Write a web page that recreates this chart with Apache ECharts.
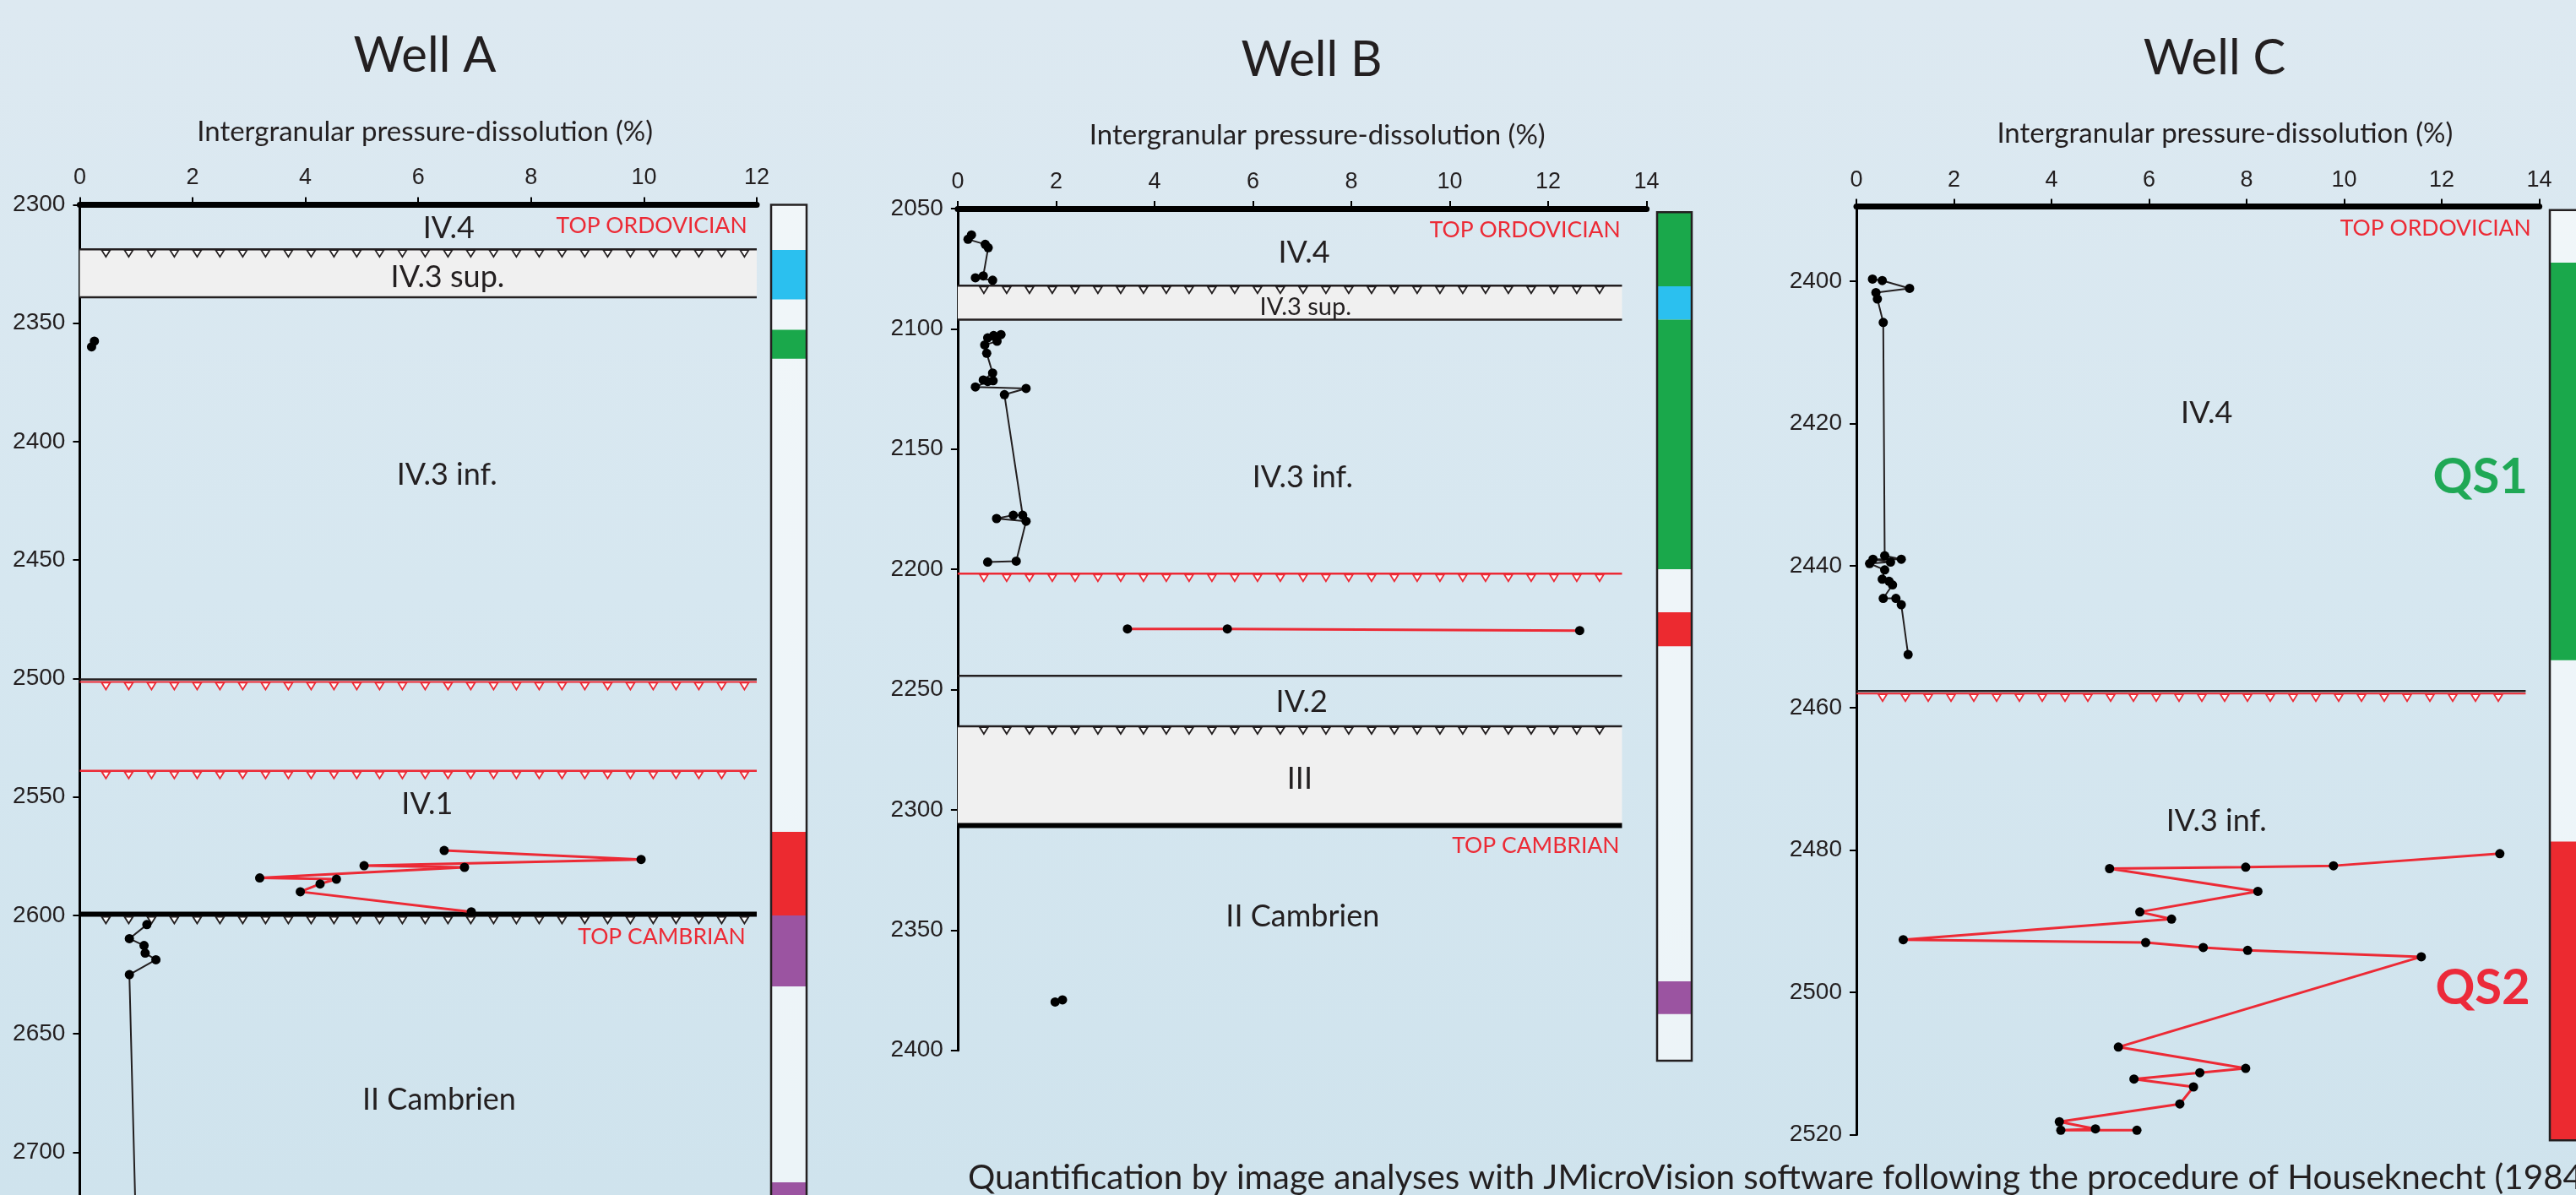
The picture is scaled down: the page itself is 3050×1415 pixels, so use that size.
<!DOCTYPE html>
<html>
<head>
<meta charset="utf-8">
<title>Intergranular pressure-dissolution - Wells A, B, C</title>
<script src="https://cdn.jsdelivr.net/npm/echarts@6.0.0/dist/echarts.min.js"></script>
<style>
  html, body { margin: 0; padding: 0; }
  #chart { width: 3050px; height: 1415px; }
</style>
</head>
<body>
<div id="chart"></div>
<script>
// ---- Well A ----
const wellA_black1 = [[0.26, 2357.6], [0.21, 2360]];
const wellA_red = [
  [6.46, 2572.6], [9.95, 2576.4], [5.04, 2579], [6.82, 2579.7], [3.19, 2584.2],
  [4.55, 2584.7], [4.26, 2586.7], [3.91, 2590], [6.94, 2598.5],
];
const wellA_black2 = [
  [1.19, 2603.9], [0.88, 2609.8], [1.14, 2612.7], [1.16, 2615.9], [1.35, 2618.7],
  [0.88, 2625], [1.01, 2745],
];
const wellA_surfaceDepth = [2318.8, 2339.1, 2500.9, 2539, 2599.5];
const wellA_surfaceType = ["erosion", "limit", "limitRedErosion", "redErosion", "topErosion"];
const wellA_bands = [[2318.8, 2339.1]];
const wellA_units = ["IV.4", "IV.3 sup.", "IV.3 inf.", "IV.1", "II Cambrien"];
const wellA_unitAt = [[6.54, 2309.9], [6.52, 2330.6], [6.51, 2414.1], [6.16, 2553], [6.37, 2678]];
const wellA_tops = ["TOP ORDOVICIAN", "TOP CAMBRIAN"];
const wellA_topAt = [[11.83, 2308.8], [11.8, 2609]];
const wellA_frame = [[2300, 2750]];
const wellA_column = [
  [2319.1, 2340, "cyan"], [2352.8, 2365, "green"], [2564.7, 2600, "red"],
  [2600, 2630, "purple"], [2712.7, 2750, "purple"],
];
const wellA_depthTicks = [2300, 2350, 2400, 2450, 2500, 2550, 2600, 2650, 2700, 2750];
const wellA_pctTicks = [0, 2, 4, 6, 8, 10, 12];

// ---- Well B ----
const wellB_black1 = [
  [0.28, 2061], [0.21, 2062.8], [0.56, 2064.9], [0.62, 2066.3], [0.52, 2078],
  [0.36, 2078.8], [0.71, 2079.8],
];
const wellB_black2 = [
  [0.88, 2102.4], [0.73, 2102.8], [0.61, 2103.8], [0.8, 2105.2], [0.55, 2106.7],
  [0.59, 2110.2], [0.71, 2118.4], [0.52, 2121.3], [0.72, 2121.6], [0.61, 2121.9],
  [0.36, 2124.2], [1.39, 2124.8], [0.95, 2127.4], [1.32, 2177.5], [1.13, 2177.5],
  [0.79, 2178.9], [1.39, 2180], [1.19, 2196.6], [0.61, 2197],
];
const wellB_red = [[3.45, 2224.8], [5.48, 2224.8], [12.64, 2225.5]];
const wellB_black3 = [[1.98, 2379.9], [2.13, 2379]];
const wellB_surfaceDepth = [2082.1, 2096.2, 2201.8, 2244.3, 2265.3, 2306.5];
const wellB_surfaceType = ["erosion", "limit", "redErosion", "limit", "erosion", "top"];
const wellB_bands = [[2082.1, 2096.2], [2265.3, 2306.5]];
const wellB_units = ["IV.4", "IV.3 inf.", "IV.2", "III", "II Cambrien"];
const wellB_unitAt = [[7.04, 2068.3], [7.01, 2161.7], [6.99, 2255.2], [6.95, 2287.2], [7.01, 2344.3]];
const wellB_smallUnits = ["IV.3 sup."];
const wellB_smallUnitAt = [[7.07, 2091.1]];
const wellB_tops = ["TOP ORDOVICIAN", "TOP CAMBRIAN"];
const wellB_topAt = [[13.47, 2058.8], [13.45, 2315.1]];
const wellB_frame = [[2051.5, 2404.3]];
const wellB_column = [
  [2051.5, 2082.3, "green"], [2082.3, 2096.2, "cyan"], [2096.2, 2200, "green"],
  [2217.9, 2232, "red"], [2371.3, 2384.9, "purple"],
];
const wellB_depthTicks = [2050, 2100, 2150, 2200, 2250, 2300, 2350, 2400];
const wellB_pctTicks = [0, 2, 4, 6, 8, 10, 12, 14];

// ---- Well C ----
const wellC_black = [
  [0.33, 2399.7], [0.53, 2399.9], [1.09, 2401], [0.4, 2401.6], [0.43, 2402.5],
  [0.55, 2405.8], [0.58, 2438.6], [0.92, 2439.1], [0.34, 2439.1], [0.7, 2439.5],
  [0.27, 2439.7], [0.58, 2440.6], [0.53, 2441.9], [0.67, 2442.2], [0.74, 2442.7],
  [0.55, 2444.6], [0.81, 2444.6], [0.92, 2445.5], [1.06, 2452.5],
];
const wellC_red = [
  [13.19, 2480.5], [9.78, 2482.2], [7.98, 2482.4], [5.19, 2482.6], [8.23, 2485.8],
  [5.81, 2488.7], [6.46, 2489.7], [0.96, 2492.6], [5.93, 2493], [7.11, 2493.7],
  [8.02, 2494.1], [11.58, 2495], [5.37, 2507.7], [7.98, 2510.7], [7.04, 2511.3],
  [5.69, 2512.2], [6.91, 2513.3], [6.63, 2515.7], [4.16, 2518.2], [4.9, 2519.2],
  [4.19, 2519.4], [5.75, 2519.4],
];
const wellC_surfaceDepth = [2457.8];
const wellC_surfaceType = ["limitRedErosion"];
const wellC_units = ["IV.4", "IV.3 inf."];
const wellC_unitAt = [[7.18, 2418.6], [7.38, 2475.9]];
const wellC_tops = ["TOP ORDOVICIAN"];
const wellC_topAt = [[13.83, 2392.6]];
const wellC_sequences = ["QS1", "QS2"];
const wellC_sequenceAt = [[12.79, 2427.6], [12.84, 2499.4]];
const wellC_frame = [[2390, 2520.8]];
const wellC_column = [[2397.4, 2453.3, "green"], [2478.8, 2520.8, "red"]];
const wellC_depthTicks = [2400, 2420, 2440, 2460, 2480, 2500, 2520];
const wellC_pctTicks = [0, 2, 4, 6, 8, 10, 12, 14];

const INK = "#231f20";
const RED = "#ec2a35";
const COLUMN_COLORS = { green: "#1aa84b", cyan: "#2bc0ef", red: "#ec2a30", purple: "#9b54a1" };
const SEQ_COLORS = ["#1fa855", "#ec2a3a"];

function pctAxis(gridIndex, max, ticks, nameShift) {
  return {
    gridIndex, type: "value", position: "top", min: 0, max,
    name: "Intergranular pressure-dissolution (%)",
    nameLocation: "middle", nameGap: 70,
    nameTextStyle: { fontFamily: "Lato", fontSize: 33, color: INK, padding: [0, 0, 0, nameShift * 2] },
    axisLine: { show: true, onZero: false, lineStyle: { color: "#000", width: 7 } },
    axisTick: { show: true, length: 9, customValues: ticks, lineStyle: { color: "#000", width: 2 } },
    axisLabel: { customValues: ticks, fontFamily: "Liberation Sans", fontSize: 27, color: INK, margin: 18, formatter: (v) => String(v) },
    splitLine: { show: false },
  };
}

function depthAxis(gridIndex, min, max, ticks) {
  return {
    gridIndex, type: "value", inverse: true, min, max,
    axisLine: { show: true, onZero: false, lineStyle: { color: "#000", width: 3 } },
    axisTick: { show: true, length: 8, customValues: ticks, lineStyle: { color: "#000", width: 2 } },
    // plain depths, no thousands separator
    axisLabel: { customValues: ticks, fontFamily: "Liberation Sans", fontSize: 28, color: INK, margin: 17, formatter: (v) => String(v) },
    splitLine: { show: false },
  };
}

function hiddenAxis(gridIndex, isY, min, max) {
  return { gridIndex, type: "value", show: false, inverse: isY, min, max, splitLine: { show: false } };
}

// unconformity teeth hanging under a surface line
function teeth(children, x0, x1, y, color) {
  for (let x = x0 + 31; x < x1 - 14; x += 27) {
    children.push({
      type: "polygon",
      shape: { points: [[x - 5, y], [x + 5, y], [x, y + 8]] },
      style: { fill: "#ffffff", stroke: color, lineWidth: 1.8 },
    });
  }
}

function surfaceSeries(idx, depths, types, xEnd) {
  return {
    type: "custom", xAxisIndex: idx, yAxisIndex: idx, z: 3, silent: true,
    data: depths.map((d) => [0, d]),
    renderItem: (params, api) => {
      const depth = api.value(1);
      const a = api.coord([0, depth]);
      const b = api.coord([xEnd, depth]);
      const y = a[1];
      const kind = types[params.dataIndex];
      const children = [];
      const line = (yy, color, width) =>
        children.push({ type: "line", shape: { x1: a[0], y1: yy, x2: b[0], y2: yy }, style: { stroke: color, lineWidth: width } });
      if (kind === "limit") {
        line(y, INK, 2.5);
      } else if (kind === "erosion") {
        line(y, INK, 2.5);
        teeth(children, a[0], b[0], y + 1, INK);
      } else if (kind === "redErosion") {
        line(y, RED, 2.5);
        teeth(children, a[0], b[0], y + 1, RED);
      } else if (kind === "limitRedErosion") {
        line(y - 1.5, INK, 2.5);
        line(y + 1.5, RED, 2);
        teeth(children, a[0], b[0], y + 2.5, RED);
      } else if (kind === "top") {
        line(y, "#000", 6);
      } else if (kind === "topErosion") {
        line(y, "#000", 6);
        teeth(children, a[0], b[0], y + 3, INK);
      }
      return { type: "group", children };
    },
  };
}

function bandSeries(idx, bands, xEnd) {
  return {
    type: "custom", xAxisIndex: idx, yAxisIndex: idx, z: 1, silent: true,
    data: bands,
    renderItem: (params, api) => {
      const p0 = api.coord([0, api.value(0)]);
      const p1 = api.coord([xEnd, api.value(1)]);
      return { type: "rect", shape: { x: p0[0], y: p0[1], width: p1[0] - p0[0], height: p1[1] - p0[1] }, style: { fill: "#f0f0f0" } };
    },
  };
}

function textSeries(idx, texts, at, style, colors) {
  return {
    type: "custom", xAxisIndex: idx, yAxisIndex: idx, z: 6, silent: true,
    data: at,
    renderItem: (params, api) => {
      const p = api.coord([api.value(0), api.value(1)]);
      return {
        type: "text", x: p[0], y: p[1],
        style: Object.assign({
          text: texts[params.dataIndex],
          verticalAlign: "middle", textVerticalAlign: "middle",
        }, style, colors ? { fill: colors[params.dataIndex] } : {}),
      };
    },
  };
}

function dataLine(idx, data, color) {
  return {
    type: "line", xAxisIndex: idx, yAxisIndex: idx, z: 5, silent: true,
    data, symbol: "circle", symbolSize: 11, showSymbol: true,
    lineStyle: { color, width: color === RED ? 3 : 2 },
    itemStyle: { color: "#000" },
  };
}

function columnSeries(idx, frame, segments) {
  return [
    {
      type: "custom", xAxisIndex: idx, yAxisIndex: idx, z: 1, silent: true,
      data: frame,
      renderItem: (params, api) => {
        const p0 = api.coord([0, api.value(0)]);
        const p1 = api.coord([1, api.value(1)]);
        return { type: "rect", shape: { x: p0[0], y: p0[1], width: p1[0] - p0[0], height: p1[1] - p0[1] }, style: { fill: "rgba(255,255,255,0.6)" } };
      },
    },
    {
      type: "custom", xAxisIndex: idx, yAxisIndex: idx, z: 2, silent: true,
      data: segments.map((s) => [s[0], s[1]]),
      renderItem: (params, api) => {
        const p0 = api.coord([0, api.value(0)]);
        const p1 = api.coord([1, api.value(1)]);
        return { type: "rect", shape: { x: p0[0], y: p0[1], width: p1[0] - p0[0], height: p1[1] - p0[1] }, style: { fill: COLUMN_COLORS[segments[params.dataIndex][2]] } };
      },
    },
    {
      type: "custom", xAxisIndex: idx, yAxisIndex: idx, z: 3, silent: true,
      data: frame,
      renderItem: (params, api) => {
        const p0 = api.coord([0, api.value(0)]);
        const p1 = api.coord([1, api.value(1)]);
        return { type: "rect", shape: { x: p0[0], y: p0[1], width: p1[0] - p0[0], height: p1[1] - p0[1] }, style: { fill: "none", stroke: INK, lineWidth: 2.5 } };
      },
    },
  ];
}

const unitStyle = { fontFamily: "Lato", fontSize: 36, fill: INK, align: "center", textAlign: "center" };
const smallUnitStyle = { fontFamily: "Lato", fontSize: 29, fill: INK, align: "center", textAlign: "center" };
const topStyle = { fontFamily: "Lato", fontSize: 26.5, fill: RED, align: "right", textAlign: "right" };
const seqStyle = { fontFamily: "Lato", fontSize: 58, fontWeight: "bold", fill: INK, align: "center", textAlign: "center" };

const gridCommon = { outerBoundsMode: "none", containLabel: false };

const options = {
  animation: false,
  backgroundColor: {
    type: "linear", x: 0, y: 0, x2: 0, y2: 1,
    colorStops: [{ offset: 0, color: "#dde9f1" }, { offset: 0.5, color: "#d6e7f0" }, { offset: 1, color: "#cfe3ed" }],
  },
  graphic: [
    { type: "text", x: 503, y: 66, style: { text: "Well A", fontFamily: "Lato", fontSize: 58, fill: INK, align: "center", verticalAlign: "middle", textAlign: "center", textVerticalAlign: "middle" } },
    { type: "text", x: 1553, y: 71, style: { text: "Well B", fontFamily: "Lato", fontSize: 58, fill: INK, align: "center", verticalAlign: "middle", textAlign: "center", textVerticalAlign: "middle" } },
    { type: "text", x: 2622, y: 69, style: { text: "Well C", fontFamily: "Lato", fontSize: 58, fill: INK, align: "center", verticalAlign: "middle", textAlign: "center", textVerticalAlign: "middle" } },
    { type: "text", x: 1146, y: 1395, style: { text: "Quantification by image analyses with JMicroVision software following the procedure of Houseknecht (1984).", fontFamily: "Lato", fontSize: 40.4, fill: INK, align: "left", verticalAlign: "middle", textAlign: "left", textVerticalAlign: "middle" } },
  ],
  grid: [
    Object.assign({ left: 94.4, top: 242.4, width: 801.6, height: 1262.3 }, gridCommon),
    Object.assign({ left: 1133.9, top: 246.9, width: 815.7, height: 996.8 }, gridCommon),
    Object.assign({ left: 2198, top: 244.6, width: 808.6, height: 1098.8 }, gridCommon),
    Object.assign({ left: 913, top: 242.4, width: 42, height: 1262.3 }, gridCommon),
    Object.assign({ left: 1962, top: 246.9, width: 41, height: 996.8 }, gridCommon),
    Object.assign({ left: 3019, top: 244.6, width: 40, height: 1098.8 }, gridCommon),
  ],
  xAxis: [
    pctAxis(0, 12, wellA_pctTicks, 8),
    pctAxis(1, 14, wellB_pctTicks, 18),
    pctAxis(2, 14, wellC_pctTicks, 32),
    hiddenAxis(3, false, 0, 1),
    hiddenAxis(4, false, 0, 1),
    hiddenAxis(5, false, 0, 1),
  ],
  yAxis: [
    depthAxis(0, 2300, 2750, wellA_depthTicks),
    depthAxis(1, 2050, 2400, wellB_depthTicks),
    depthAxis(2, 2389.5, 2520, wellC_depthTicks),
    hiddenAxis(3, true, 2300, 2750),
    hiddenAxis(4, true, 2050, 2400),
    hiddenAxis(5, true, 2389.5, 2520),
  ],
  series: [
    // Well A
    bandSeries(0, wellA_bands, 12),
    surfaceSeries(0, wellA_surfaceDepth, wellA_surfaceType, 12),
    dataLine(0, wellA_black1, INK),
    dataLine(0, wellA_red, RED),
    dataLine(0, wellA_black2, INK),
    textSeries(0, wellA_units, wellA_unitAt, unitStyle),
    textSeries(0, wellA_tops, wellA_topAt, topStyle),
    ...columnSeries(3, wellA_frame, wellA_column),
    // Well B
    bandSeries(1, wellB_bands, 13.5),
    surfaceSeries(1, wellB_surfaceDepth, wellB_surfaceType, 13.5),
    dataLine(1, wellB_black1, INK),
    dataLine(1, wellB_black2, INK),
    dataLine(1, wellB_red, RED),
    dataLine(1, wellB_black3, INK),
    textSeries(1, wellB_units, wellB_unitAt, unitStyle),
    textSeries(1, wellB_smallUnits, wellB_smallUnitAt, smallUnitStyle),
    textSeries(1, wellB_tops, wellB_topAt, topStyle),
    ...columnSeries(4, wellB_frame, wellB_column),
    // Well C
    surfaceSeries(2, wellC_surfaceDepth, wellC_surfaceType, 13.72),
    dataLine(2, wellC_black, INK),
    dataLine(2, wellC_red, RED),
    textSeries(2, wellC_units, wellC_unitAt, unitStyle),
    textSeries(2, wellC_tops, wellC_topAt, topStyle),
    textSeries(2, wellC_sequences, wellC_sequenceAt, seqStyle, SEQ_COLORS),
    ...columnSeries(5, wellC_frame, wellC_column),
  ],
};

const chart = echarts.init(document.getElementById("chart"));
chart.setOption(options);
</script>
</body>
</html>
